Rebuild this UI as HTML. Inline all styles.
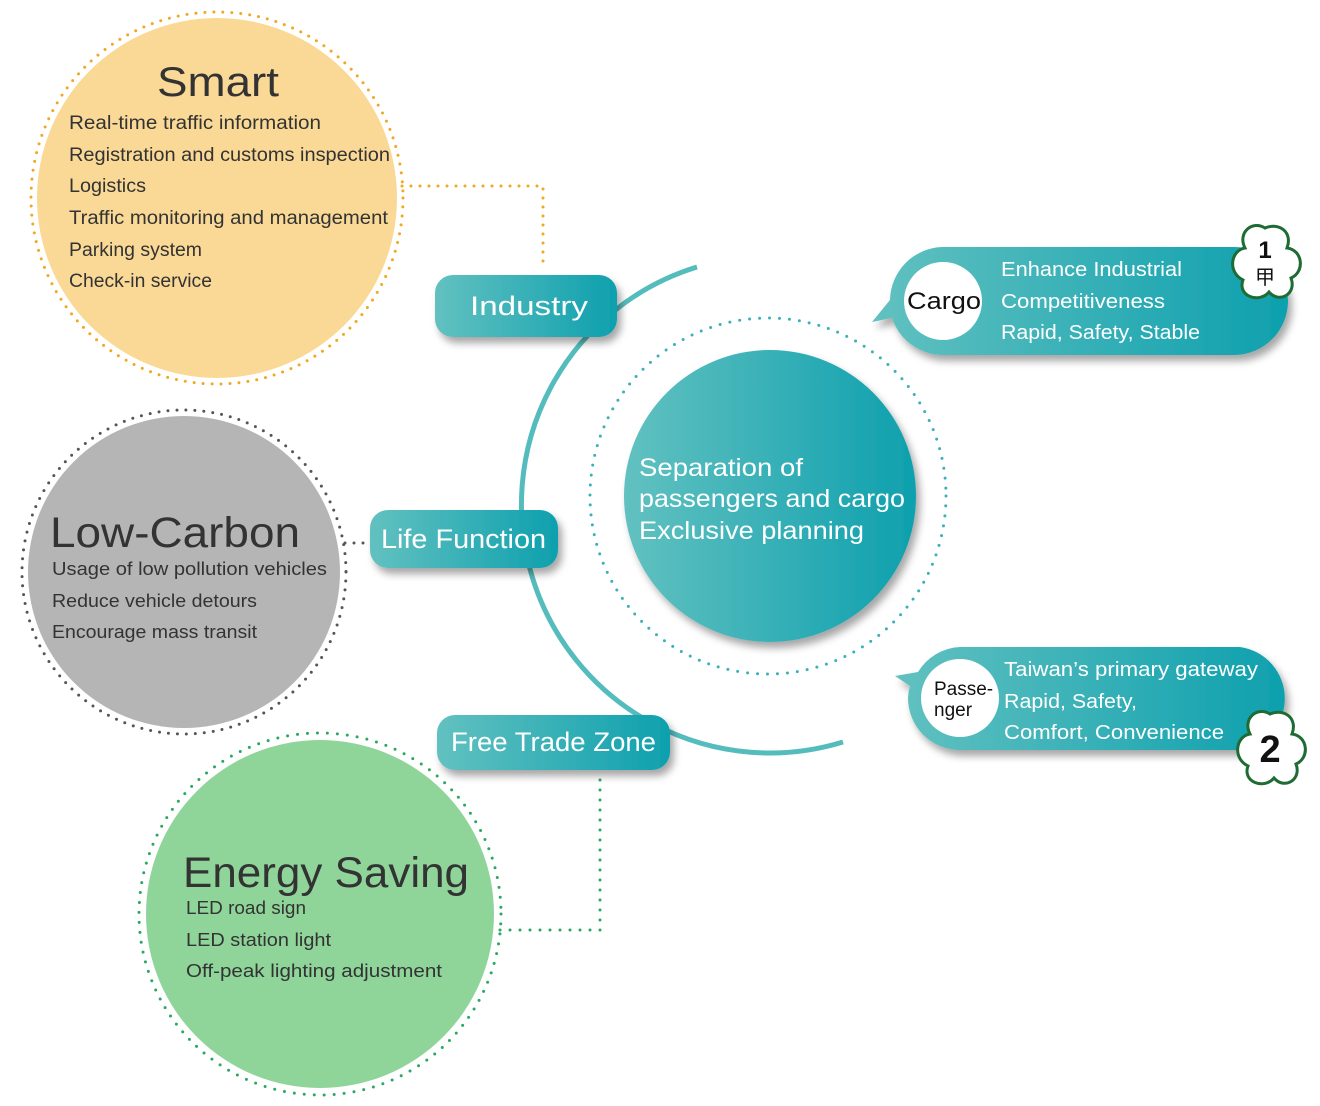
<!DOCTYPE html>
<html><head><meta charset="utf-8"><style>
html,body{margin:0;padding:0;background:#fff;}
svg{display:block;font-family:"Liberation Sans",sans-serif;}
</style></head><body>
<svg width="1320" height="1106" viewBox="0 0 1320 1106" xmlns="http://www.w3.org/2000/svg">
<defs>
<linearGradient id="tg" x1="0" x2="1" y1="0" y2="0"><stop offset="0" stop-color="#62c1c0"/><stop offset="1" stop-color="#0ea0ae"/></linearGradient>
<filter id="sh" x="-20%" y="-30%" width="150%" height="180%"><feDropShadow dx="4" dy="6" stdDeviation="4" flood-color="#000" flood-opacity="0.35"/></filter>
</defs>
<!-- connectors -->
<path d="M402 186 H543 V268" fill="none" stroke="#f0a820" stroke-width="3" stroke-dasharray="0 9" stroke-linecap="round"/>
<path d="M345 543 H368" fill="none" stroke="#555" stroke-width="3" stroke-dasharray="0 9" stroke-linecap="round"/>
<path d="M500 930 H600 V775" fill="none" stroke="#2aa860" stroke-width="3" stroke-dasharray="0 10" stroke-linecap="round"/>

<!-- Smart -->
<circle cx="217" cy="198" r="186" fill="none" stroke="#f0a820" stroke-width="3" stroke-dasharray="0 9" stroke-linecap="round"/>
<circle cx="217" cy="198" r="180" fill="#fad996"/>
<text x="157" y="96" font-size="42" fill="#333" textLength="122" lengthAdjust="spacingAndGlyphs">Smart</text>
<g font-size="19" fill="#333">
<text x="69" y="129" textLength="252" lengthAdjust="spacingAndGlyphs">Real-time traffic information</text>
<text x="69" y="161" textLength="321" lengthAdjust="spacingAndGlyphs">Registration and customs inspection</text>
<text x="69" y="192" textLength="77" lengthAdjust="spacingAndGlyphs">Logistics</text>
<text x="69" y="224" textLength="319" lengthAdjust="spacingAndGlyphs">Traffic monitoring and management</text>
<text x="69" y="256" textLength="133" lengthAdjust="spacingAndGlyphs">Parking system</text>
<text x="69" y="287" textLength="143" lengthAdjust="spacingAndGlyphs">Check-in service</text>
</g>

<!-- Low carbon -->
<circle cx="184" cy="572" r="162" fill="none" stroke="#555" stroke-width="3" stroke-dasharray="0 9" stroke-linecap="round"/>
<circle cx="184" cy="572" r="156" fill="#b5b5b5"/>
<text x="50" y="547" font-size="43" fill="#333" textLength="250" lengthAdjust="spacingAndGlyphs">Low-Carbon</text>
<g font-size="18.5" fill="#333">
<text x="52" y="575" textLength="275" lengthAdjust="spacingAndGlyphs">Usage of low pollution vehicles</text>
<text x="52" y="607" textLength="205" lengthAdjust="spacingAndGlyphs">Reduce vehicle detours</text>
<text x="52" y="638" textLength="205" lengthAdjust="spacingAndGlyphs">Encourage mass transit</text>
</g>

<!-- Energy -->
<circle cx="320" cy="914" r="181" fill="none" stroke="#2aa860" stroke-width="3" stroke-dasharray="0 10" stroke-linecap="round"/>
<circle cx="320" cy="914" r="174" fill="#8fd59a"/>
<text x="183" y="887" font-size="43" fill="#333" textLength="286" lengthAdjust="spacingAndGlyphs">Energy Saving</text>
<g font-size="18.5" fill="#333">
<text x="186" y="914" textLength="120" lengthAdjust="spacingAndGlyphs">LED road sign</text>
<text x="186" y="946" textLength="145" lengthAdjust="spacingAndGlyphs">LED station light</text>
<text x="186" y="977" textLength="256" lengthAdjust="spacingAndGlyphs">Off-peak lighting adjustment</text>
</g>

<!-- arc -->
<path d="M697 267 A246 246 0 1 0 843 742" fill="none" stroke="#55bcbd" stroke-width="5"/>
<!-- dotted circle -->
<circle cx="768" cy="496" r="178" fill="none" stroke="#3ab0b8" stroke-width="3" stroke-dasharray="0 10" stroke-linecap="round"/>
<!-- center -->
<circle cx="770" cy="496" r="146" fill="url(#tg)" filter="url(#sh)"/>
<g font-size="25" fill="#fff">
<text x="639" y="476" textLength="164" lengthAdjust="spacingAndGlyphs">Separation of</text>
<text x="639" y="507" textLength="266" lengthAdjust="spacingAndGlyphs">passengers and cargo</text>
<text x="639" y="539" textLength="225" lengthAdjust="spacingAndGlyphs">Exclusive planning</text>
</g>

<!-- pills -->
<g filter="url(#sh)">
<rect x="435" y="275" width="182" height="62" rx="18" fill="url(#tg)"/>
<rect x="370" y="510" width="188" height="58" rx="18" fill="url(#tg)"/>
<rect x="437" y="715" width="233" height="55" rx="18" fill="url(#tg)"/>
</g>
<g font-size="27" fill="#fff">
<text x="470" y="315" textLength="118" lengthAdjust="spacingAndGlyphs">Industry</text>
<text x="381" y="548" textLength="165" lengthAdjust="spacingAndGlyphs">Life Function</text>
<text x="451" y="751" textLength="205" lengthAdjust="spacingAndGlyphs">Free Trade Zone</text>
</g>

<!-- cargo bubble -->
<g filter="url(#sh)">
<path d="M942 247 H1234 A54 54 0 0 1 1234 355 H942 A54 54 0 0 1 892 318 L872 322 L890 300 A54 54 0 0 1 942 247 Z" fill="url(#tg)"/>
</g>
<circle cx="943" cy="301" r="39" fill="#fff"/>
<text x="907" y="309" font-size="24" fill="#111" textLength="74" lengthAdjust="spacingAndGlyphs">Cargo</text>
<g font-size="20" fill="#fff">
<text x="1001" y="276" textLength="181" lengthAdjust="spacingAndGlyphs">Enhance Industrial</text>
<text x="1001" y="308" textLength="164" lengthAdjust="spacingAndGlyphs">Competitiveness</text>
<text x="1001" y="339" textLength="199" lengthAdjust="spacingAndGlyphs">Rapid, Safety, Stable</text>
</g>
<g transform="translate(1265,262)">
<path d="M0 -34 C14 -40 28 -30 22 -14 C38 -12 40 10 26 16 C32 32 14 42 4 30 C-6 42 -28 34 -22 18 C-38 10 -34 -12 -20 -14 C-28 -30 -12 -42 0 -34 Z" fill="#fff" stroke="#1e6b34" stroke-width="3"/>
<text x="0" y="-4" font-size="24" font-weight="bold" text-anchor="middle" fill="#111">1</text>
<text x="0" y="22" font-size="20" text-anchor="middle" fill="#111" font-family="'Noto Sans CJK TC',sans-serif">甲</text>
</g>

<!-- passenger bubble -->
<g filter="url(#sh)">
<path d="M960 647 H1240 A52 52 0 0 1 1240 750 H960 A52 52 0 0 1 908 698 A52 52 0 0 1 910 686 L895 676 L918 672 A52 52 0 0 1 960 647 Z" fill="url(#tg)"/>
</g>
<circle cx="960" cy="698" r="39" fill="#fff"/>
<g font-size="19" fill="#111">
<text x="934" y="695">Passe-</text>
<text x="934" y="716">nger</text>
</g>
<g font-size="20" fill="#fff">
<text x="1004" y="676" textLength="254" lengthAdjust="spacingAndGlyphs">Taiwan’s primary gateway</text>
<text x="1004" y="708" textLength="133" lengthAdjust="spacingAndGlyphs">Rapid, Safety,</text>
<text x="1004" y="739" textLength="220" lengthAdjust="spacingAndGlyphs">Comfort, Convenience</text>
</g>
<g transform="translate(1270,748)">
<path d="M0 -34 C14 -40 28 -30 22 -14 C38 -12 40 10 26 16 C32 32 14 42 4 30 C-6 42 -28 34 -22 18 C-38 10 -34 -12 -20 -14 C-28 -30 -12 -42 0 -34 Z" fill="#fff" stroke="#1e6b34" stroke-width="3"/>
<text x="0" y="14" font-size="38" font-weight="bold" text-anchor="middle" fill="#111">2</text>
</g>
</svg>
</body></html>
